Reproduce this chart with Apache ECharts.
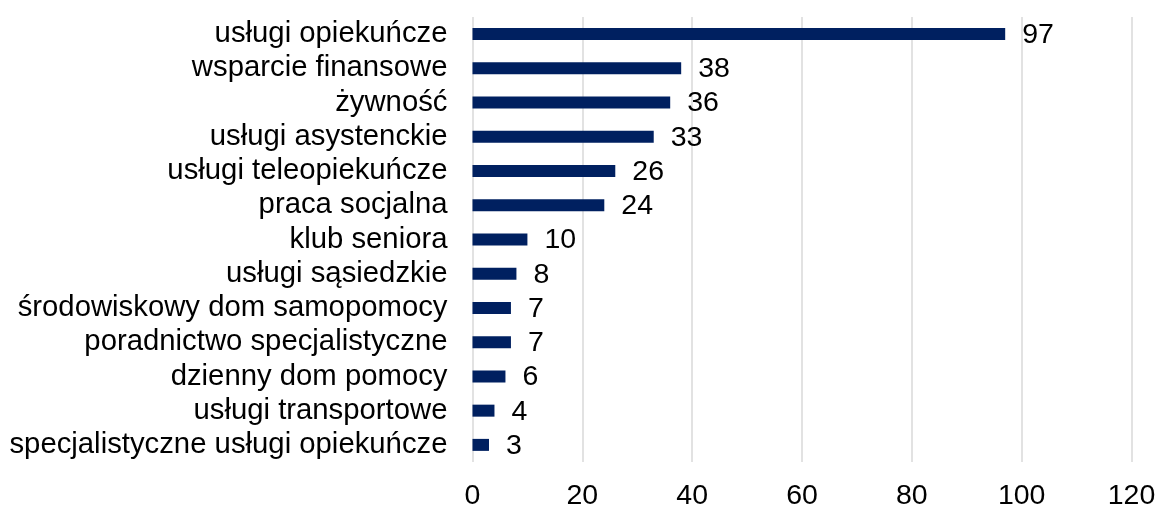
<!DOCTYPE html>
<html>
<head>
<meta charset="utf-8">
<script src="https://cdn.jsdelivr.net/npm/echarts@6/dist/echarts.min.js"></script>
<style>
  html, body { margin: 0; padding: 0; background: #ffffff; }
  #chart { width: 1158px; height: 507px; }
</style>
</head>
<body>
<div id="chart"></div>
<script>
// Forms of support, ordered from most to least frequent
const categories = [
  'usługi opiekuńcze',
  'wsparcie finansowe',
  'żywność',
  'usługi asystenckie',
  'usługi teleopiekuńcze',
  'praca socjalna',
  'klub seniora',
  'usługi sąsiedzkie',
  'środowiskowy dom samopomocy',
  'poradnictwo specjalistyczne',
  'dzienny dom pomocy',
  'usługi transportowe',
  'specjalistyczne usługi opiekuńcze'
];
const values = [97, 38, 36, 33, 26, 24, 10, 8, 7, 7, 6, 4, 3];

const xMin = 0;
const xMax = 120;
const xStep = 20;

const fontFamily = '"Liberation Sans", Arial, sans-serif';

const chart = echarts.init(document.getElementById('chart'), null, { renderer: 'canvas' });
chart.setOption({
  animation: false,
  backgroundColor: '#ffffff',
  grid: {
    left: 472.5, right: 26.5, top: 17, bottom: 45,
    containLabel: false,
    outerBoundsMode: 'none'
  },
  xAxis: {
    type: 'value',
    min: xMin,
    max: xMax,
    interval: xStep,
    axisLine: { show: false },
    axisTick: { show: false },
    splitLine: { show: true, lineStyle: { color: '#d9d9d9', width: 1.5 } },
    axisLabel: { color: '#000000', fontSize: 28.5, fontFamily: fontFamily, margin: 20 }
  },
  yAxis: {
    type: 'category',
    data: categories,
    inverse: true,
    axisLine: { show: false },
    axisTick: { show: false },
    splitLine: { show: false },
    axisLabel: { color: '#000000', fontSize: 29.3, fontFamily: fontFamily, margin: 25, interval: 0 }
  },
  series: [{
    type: 'bar',
    data: values,
    barWidth: 12,
    itemStyle: { color: '#002060' },
    label: {
      show: true,
      position: 'right',
      distance: 17,
      offset: [0, 1],
      color: '#000000',
      fontSize: 28.5,
      fontFamily: fontFamily
    }
  }]
});
</script>
</body>
</html>
